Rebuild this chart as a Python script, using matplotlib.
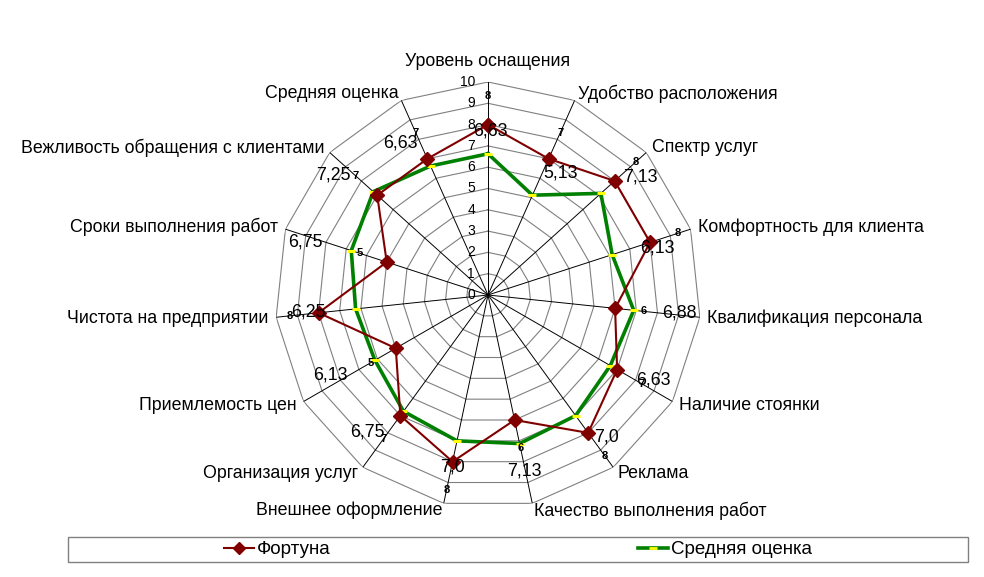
import numpy as np
import matplotlib.pyplot as plt
from matplotlib.patches import Rectangle
from matplotlib.lines import Line2D

plt.rcParams['font.family'] = ['Liberation Sans', 'DejaVu Sans']

# данные
categories = ["Уровень оснащения", "Удобство расположения", "Спектр услуг",
              "Комфортность для клиента", "Квалификация персонала", "Наличие стоянки",
              "Реклама", "Качество выполнения работ", "Внешнее оформление",
              "Организация услуг", "Приемлемость цен", "Чистота на предприятии",
              "Сроки выполнения работ", "Вежливость обращения с клиентами", "Средняя оценка"]
fortuna = [8, 7, 8, 8, 6, 7, 8, 6, 8, 7, 5, 8, 5, 7, 7]
average = [6.63, 5.13, 7.13, 6.13, 6.88, 6.63, 7.0, 7.13, 7.0, 6.75, 6.13, 6.25, 6.75, 7.25, 6.63]
r_ticks = list(range(0, 11))

# смещения подписей (пиксели, вниз положительно), как в исходной картинке
label_offsets = [(2, 6), (12, 14), (26, -4), (7, 6), (64, 5), (36, 10), (18, 4), (10, 51),
                 (0, 5), (-33, 16), (-65, 27), (-10, -1), (-81, -20), (-44, -20), (-27, -16)]

RED = '#800000'
GREEN = '#008000'
GRID = '#808080'
FS = 12.8


def fmt(v):
    s = f"{v:.2f}"
    if s.endswith("0"):
        s = s[:-1]
    return s.replace(".", ",")


n = len(categories)
theta = np.linspace(0, 2 * np.pi, n, endpoint=False)
theta_c = np.append(theta, theta[0])

fig = plt.figure(figsize=(9.84, 5.77), dpi=100)
ax = fig.add_axes([275 / 984, 69 / 577, 426 / 984, 426 / 577], projection='polar')
ax.set_theta_zero_location('N')
ax.set_theta_direction(-1)
ax.set_ylim(0, 10)
ax.grid(False)
ax.set_xticks([])
ax.set_yticks([])
ax.spines['polar'].set_visible(False)
ax.patch.set_alpha(0)

# сетка-многоугольник
for r in r_ticks[1:]:
    ax.plot(theta_c, [r] * (n + 1), color=GRID, lw=0.8, zorder=1)
for t in theta:
    ax.plot([t, t], [0, 10], color='black', lw=0.7, zorder=1)

# подписи шкалы
for r in r_ticks:
    ax.annotate(str(r), xy=(0, r), xytext=(-13, 0), textcoords='offset pixels',
                ha='right', va='center', fontsize=10, zorder=2)

# серии
ax.plot(theta_c, average + average[:1], color=GREEN, lw=2.6, zorder=3)
ax.plot(theta, average, ls='none', marker='_', color='yellow', ms=6, mew=2, zorder=4)
ax.plot(theta_c, fortuna + fortuna[:1], color=RED, lw=1.5, marker='D', ms=7,
        mfc=RED, mec=RED, zorder=5)

# подписи данных
for i in range(n):
    dx, dy = label_offsets[i]
    ax.annotate(fmt(average[i]), xy=(theta[i], fortuna[i]), xytext=(dx, -dy),
                textcoords='offset pixels', ha='center', va='center', fontsize=FS, zorder=6)
    ax.text(theta[i], fortuna[i] + 1.35, str(fortuna[i]), ha='center', va='center',
            fontsize=8, fontweight='bold', zorder=6)

# названия категорий
for i, (t, name) in enumerate(zip(theta, categories)):
    s = np.sin(t)
    if abs(s) < 1e-6:
        ax.text(t, 10.55, name, ha='center', va='bottom', fontsize=FS)
    elif s > 0:
        ax.text(t, 10.35, name, ha='left', va='center', fontsize=FS)
    else:
        ax.text(t, 10.35, name, ha='right', va='center', fontsize=FS)

# легенда
fig.patches.append(Rectangle((68 / 984, 15 / 577), 900 / 984, 25 / 577,
                             transform=fig.transFigure, fill=False, ec=GRID, lw=1))
h1 = Line2D([], [], color=RED, lw=1.5, marker='D', ms=6, mfc=RED, mec=RED)
h2 = Line2D([], [], color=GREEN, lw=2.6, marker='_', ms=6, mew=2, mec='yellow')
fig.legend([h1, h2], ["Фортуна", "Средняя оценка"], loc='center',
           bbox_to_anchor=(518 / 984, 1 - 549.5 / 577), ncol=2, frameon=False,
           fontsize=13.5, handlelength=1.6, handletextpad=0.15, columnspacing=16.4,
           numpoints=1)

fig.savefig('out.png', dpi=100)
